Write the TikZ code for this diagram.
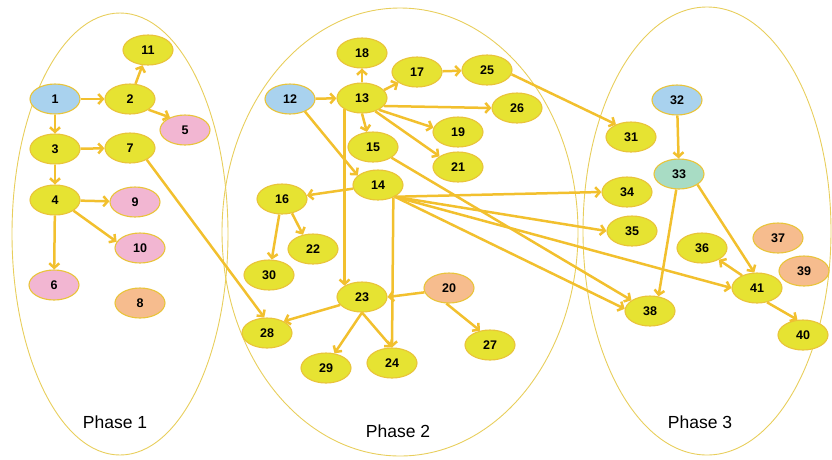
\documentclass[tikz,border=0pt]{standalone}
\usepackage{fontspec}
\setmainfont{Liberation Sans}
\usepackage{tikz}
\usetikzlibrary{arrows.meta}
\definecolor{phyellow}{HTML}{E6E332}
\definecolor{phedge}{HTML}{E9C43A}
\definecolor{phblue}{HTML}{A9D2EE}
\definecolor{phpink}{HTML}{F2B6D2}
\definecolor{phpeach}{HTML}{F6BC8E}
\definecolor{phteal}{HTML}{A8DCC4}
\definecolor{pharrow}{HTML}{F2C02E}
\definecolor{phline}{HTML}{E8CE5C}
\tikzset{
  task/.style={ellipse,draw=phedge,line width=1.1pt,minimum width=50pt,
               minimum height=30pt,inner sep=0pt,
               font=\fontsize{12.5}{14}\selectfont\bfseries},
  phase/.style={ellipse,draw=phline,line width=0.9pt,inner sep=0pt},
  ar/.style={-{Straight Barb[length=4.5pt,width=10pt]},line width=2.5pt,pharrow},
  lab/.style={font=\fontsize{17.5}{20}\selectfont},
}
\usetikzlibrary{shapes.geometric}
\begin{document}
\begin{tikzpicture}[x=1pt,y=-1pt]
  \useasboundingbox (0,0) rectangle (832,459);
  % the three phase outlines
  \node[phase,minimum width=216pt,minimum height=442pt] (ph1) at (120,234) {};
  \node[phase,minimum width=356pt,minimum height=448pt] (ph2) at (400,232) {};
  \node[phase,minimum width=248pt,minimum height=448pt] (ph3) at (707,231) {};
  \node[lab] (l1) at (115,422) {Phase 1};
  \node[lab] (l2) at (398,431) {Phase 2};
  \node[lab] (l3) at (700,422) {Phase 3};
  % tasks
  \foreach \n/\x/\y/\c in
    {1/55/99/phblue,2/130/99/phyellow,11/148/50/phyellow,5/185/130/phpink,
     3/55/149/phyellow,7/130/148/phyellow,4/55/200/phyellow,9/135/202/phpink,
     10/140/248/phpink,6/54/285/phpink,8/140/303/phpeach,
     12/290/99/phblue,13/362/98/phyellow,18/362/53/phyellow,17/417/72/phyellow,
     25/487/70/phyellow,26/517/108/phyellow,19/458/132/phyellow,
     15/373/147/phyellow,21/458/167/phyellow,14/378/185/phyellow,
     16/282/199/phyellow,22/313/249/phyellow,30/269/275/phyellow,
     23/362/297/phyellow,20/449/288/phpeach,28/267/333/phyellow,
     29/326/368/phyellow,24/392/363/phyellow,27/490/345/phyellow,
     32/677/100/phblue,31/631/137/phyellow,33/679/174/phteal,
     34/627/192/phyellow,35/632/231/phyellow,37/778/238/phpeach,
     36/702/248/phyellow,39/804/271/phpeach,41/757/288/phyellow,
     38/650/311/phyellow,40/803/335/phyellow}
    {\node[task,fill=\c] (n\n) at (\x,\y) {\n};}
  % dependencies
  \foreach \a/\b in {1/2,1/3,3/7,3/4,4/9,4/6,12/13,13/18,17/25,14/16,32/33}
    {\draw[ar] (n\a) -- (n\b);}
  \draw[ar] (n2.70) -- (n11.-110);
  \draw[ar] (n2.-30) -- (n5.140);
  \draw[ar] (n4.-30) -- (n10.165);
  \draw[ar] (n7.-35) -- (n28.100);
  \draw[ar] (n12.-40) -- (n14.155);
  \draw[ar] (n13.20) -- (n17.-150);
  \draw[ar] (n13.-20) -- (n26.west);
  \draw[ar] (n13.-35) -- (n19.170);
  \draw[ar] (n13.-45) -- (n21.150);
  \draw[ar] (n13.-90) -- (n15.112);
  \draw[ar] (n13.-147) -- (n23.147);
  \draw[ar] (n16.-100) -- (n30.80);
  \draw[ar] (n16.-55) -- (n22.125);
  \draw[ar] (n14.-39) -- (n24.north);
  \draw[ar] (n14.-35) -- (n34.west);
  \draw[ar] (n14.-35) -- (n35.west);
  \draw[ar] (n14.-35) -- (n41.west);
  \draw[ar] (n14.-35) -- (n38.175);
  \draw[ar] (n15.-30) -- (n38.150);
  \draw[ar] (n20.190) -- (n23.east);
  \draw[ar] (n20.-100) -- (n27.125);
  \draw[ar] (n23.200) -- (n28.35);
  \draw[ar] (n23.-90) -- (n29.60);
  \draw[ar] (n23.-90) -- (n24.north);
  \draw[ar] (n25.-10) -- (n31.140);
  \draw[ar] (n33.-100) -- (n38.60);
  \draw[ar] (n33.-30) -- (n41.100);
  \draw[ar] (n41.140) -- (n36.-35);
  \draw[ar] (n41.-55) -- (n40.110);
\end{tikzpicture}
\end{document}
